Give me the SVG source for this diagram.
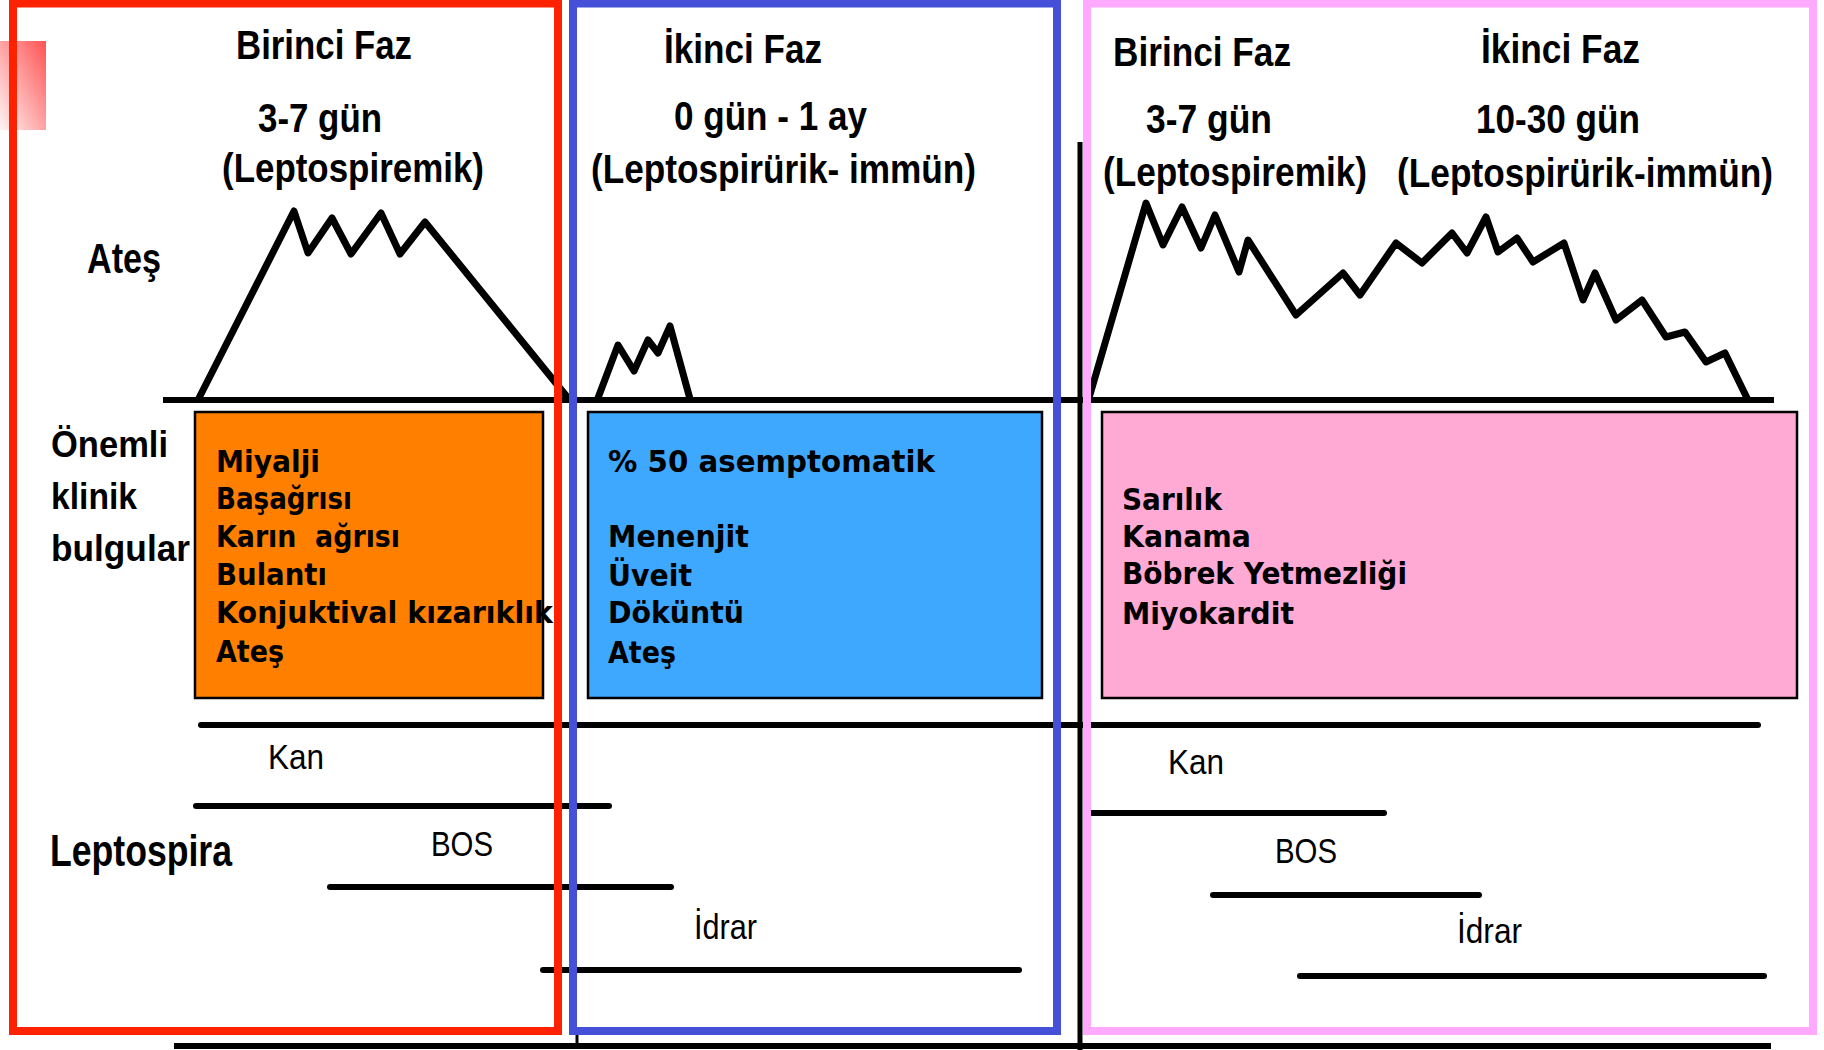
<svg xmlns="http://www.w3.org/2000/svg" width="1824" height="1050" viewBox="0 0 1824 1050">
  <defs>
    <linearGradient id="cornerFade" x1="0" y1="1" x2="1" y2="0">
      <stop offset="0" stop-color="#fff4f4"/>
      <stop offset="1" stop-color="#ff5252"/>
    </linearGradient>
    <style>
      .hdr { font-family: "Liberation Sans", Arial, sans-serif; font-weight: bold; font-size: 41px; fill: #000; }
      .side { font-family: "Liberation Sans", Arial, sans-serif; font-weight: bold; fill: #000; }
      .lbl { font-family: "Liberation Sans", Arial, sans-serif; font-size: 35px; fill: #000; }
      .item { font-family: "DejaVu Sans", Verdana, sans-serif; font-weight: bold; font-size: 30px; fill: #000; }
      .fever { fill: none; stroke: #000; stroke-width: 7; stroke-linejoin: round; stroke-linecap: round; }
      .bar { stroke: #000; stroke-width: 6; stroke-linecap: round; }
      .axis { stroke: #000; stroke-width: 6; }
      .box { stroke: #000; stroke-width: 2.5; }
      .frame { fill: none; stroke-width: 8; }
    </style>
  </defs>

  <rect width="1824" height="1050" fill="#fff"/>

  <!-- corner accent -->
  <rect x="0" y="41" width="46" height="89" fill="url(#cornerFade)"/>

  <!-- axes and fever curves -->
  <g id="fever-chart">
    <line class="axis" x1="163" y1="400" x2="1774" y2="400"/>
    <line x1="1080" y1="142" x2="1080" y2="1050" stroke="#000" stroke-width="5"/>
    <polyline class="fever" points="199,398 294,211 308,253 332,218 351,254 381,213 400,254 425,222 568,398"/>
    <polyline class="fever" points="598,398 618,345 634,371 648,340 658,353 670,326 690,399"/>
    <polyline class="fever" points="1089,398 1146,203 1163,245 1182,207 1201,248 1215,215 1239,272 1248,240 1296,315 1343,273 1360,295 1396,243 1422,263 1452,233 1467,253 1486,217 1498,252 1517,238 1533,262 1564,243 1583,300 1595,273 1616,320 1642,300 1666,337 1685,332 1706,362 1725,353 1747,398"/>
  </g>

  <!-- phase headings -->
  <g id="phase1-heading">
    <text class="hdr" x="236" y="59" textLength="176" lengthAdjust="spacingAndGlyphs">Birinci Faz</text>
    <text class="hdr" x="258" y="132" textLength="124" lengthAdjust="spacingAndGlyphs">3-7 gün</text>
    <text class="hdr" x="222" y="182" textLength="262" lengthAdjust="spacingAndGlyphs">(Leptospiremik)</text>
  </g>
  <g id="phase2-heading">
    <text class="hdr" x="664" y="63" textLength="158" lengthAdjust="spacingAndGlyphs">İkinci Faz</text>
    <text class="hdr" x="674" y="130" textLength="193" lengthAdjust="spacingAndGlyphs">0 gün - 1 ay</text>
    <text class="hdr" x="591" y="183" textLength="385" lengthAdjust="spacingAndGlyphs">(Leptospirürik- immün)</text>
  </g>
  <g id="combined-heading">
    <text class="hdr" x="1113" y="66" textLength="178" lengthAdjust="spacingAndGlyphs">Birinci Faz</text>
    <text class="hdr" x="1146" y="133" textLength="126" lengthAdjust="spacingAndGlyphs">3-7 gün</text>
    <text class="hdr" x="1103" y="186" textLength="264" lengthAdjust="spacingAndGlyphs">(Leptospiremik)</text>
    <text class="hdr" x="1481" y="63" textLength="159" lengthAdjust="spacingAndGlyphs">İkinci Faz</text>
    <text class="hdr" x="1476" y="133" textLength="164" lengthAdjust="spacingAndGlyphs">10-30 gün</text>
    <text class="hdr" x="1397" y="187" textLength="376" lengthAdjust="spacingAndGlyphs">(Leptospirürik-immün)</text>
  </g>

  <!-- row labels -->
  <g id="row-labels">
    <text class="side" font-size="42" x="87" y="273" textLength="74" lengthAdjust="spacingAndGlyphs">Ateş</text>
    <text class="side" font-size="36" x="51" y="457" textLength="117" lengthAdjust="spacingAndGlyphs">Önemli</text>
    <text class="side" font-size="36" x="51" y="509" textLength="86" lengthAdjust="spacingAndGlyphs">klinik</text>
    <text class="side" font-size="36" x="51" y="561" textLength="139" lengthAdjust="spacingAndGlyphs">bulgular</text>
    <text class="side" font-size="44" x="50" y="866" textLength="182" lengthAdjust="spacingAndGlyphs">Leptospira</text>
  </g>

  <!-- clinical findings boxes -->
  <g id="findings-phase1">
    <rect class="box" x="195" y="412" width="348" height="286" fill="#ff7f00"/>
    <text class="item" x="216" y="472" textLength="104" lengthAdjust="spacingAndGlyphs">Miyalji</text>
    <text class="item" x="216" y="509" textLength="136" lengthAdjust="spacingAndGlyphs">Başağrısı</text>
    <text class="item" x="216" y="547" textLength="184" lengthAdjust="spacingAndGlyphs" xml:space="preserve">Karın  ağrısı</text>
    <text class="item" x="216" y="585" textLength="111" lengthAdjust="spacingAndGlyphs">Bulantı</text>
    <text class="item" x="216" y="623" textLength="337" lengthAdjust="spacingAndGlyphs">Konjuktival kızarıklık</text>
    <text class="item" x="216" y="662" textLength="68" lengthAdjust="spacingAndGlyphs">Ateş</text>
  </g>
  <g id="findings-phase2">
    <rect class="box" x="588" y="412" width="454" height="286" fill="#3ea8ff"/>
    <text class="item" x="608" y="472" textLength="327" lengthAdjust="spacingAndGlyphs">% 50 asemptomatik</text>
    <text class="item" x="608" y="547" textLength="141" lengthAdjust="spacingAndGlyphs">Menenjit</text>
    <text class="item" x="608" y="586" textLength="84" lengthAdjust="spacingAndGlyphs">Üveit</text>
    <text class="item" x="608" y="623" textLength="136" lengthAdjust="spacingAndGlyphs">Döküntü</text>
    <text class="item" x="608" y="663" textLength="68" lengthAdjust="spacingAndGlyphs">Ateş</text>
  </g>
  <g id="findings-severe">
    <rect class="box" x="1102" y="412" width="695" height="286" fill="#ffaad4"/>
    <text class="item" x="1122" y="510" textLength="100" lengthAdjust="spacingAndGlyphs">Sarılık</text>
    <text class="item" x="1122" y="547" textLength="129" lengthAdjust="spacingAndGlyphs">Kanama</text>
    <text class="item" x="1122" y="584" textLength="285" lengthAdjust="spacingAndGlyphs">Böbrek Yetmezliği</text>
    <text class="item" x="1122" y="624" textLength="172" lengthAdjust="spacingAndGlyphs">Miyokardit</text>
  </g>

  <!-- leptospira detection periods -->
  <g id="connectors">
    <line class="bar" x1="201" y1="725" x2="1758" y2="725"/>
    <line class="bar" x1="196" y1="806" x2="609" y2="806"/>
    <line class="bar" x1="330" y1="887" x2="671" y2="887"/>
    <line class="bar" x1="543" y1="970" x2="1019" y2="970"/>
    <line class="bar" x1="1092" y1="813" x2="1384" y2="813"/>
    <line class="bar" x1="1213" y1="895" x2="1479" y2="895"/>
    <line class="bar" x1="1300" y1="976" x2="1764" y2="976"/>
    <line class="axis" x1="174" y1="1046" x2="1771" y2="1046"/>
    <line x1="577" y1="1031" x2="577" y2="1047" stroke="#000" stroke-width="3"/>
  </g>
  <g id="sample-labels">
    <text class="lbl" x="268" y="769" textLength="56" lengthAdjust="spacingAndGlyphs">Kan</text>
    <text class="lbl" x="431" y="856" textLength="62" lengthAdjust="spacingAndGlyphs">BOS</text>
    <text class="lbl" x="694" y="939" textLength="63" lengthAdjust="spacingAndGlyphs">İdrar</text>
    <text class="lbl" x="1168" y="774" textLength="56" lengthAdjust="spacingAndGlyphs">Kan</text>
    <text class="lbl" x="1275" y="863" textLength="62" lengthAdjust="spacingAndGlyphs">BOS</text>
    <text class="lbl" x="1457" y="943" textLength="65" lengthAdjust="spacingAndGlyphs">İdrar</text>
  </g>

  <!-- phase frames -->
  <g id="frames">
    <rect class="frame" x="13" y="3.5" width="545" height="1027.5" stroke="#ff2200"/>
    <rect class="frame" x="573" y="3.5" width="484" height="1027.5" stroke="#4450d8"/>
    <rect class="frame" x="1087" y="3.5" width="726" height="1027.5" stroke="#ffaaff"/>
  </g>
</svg>
